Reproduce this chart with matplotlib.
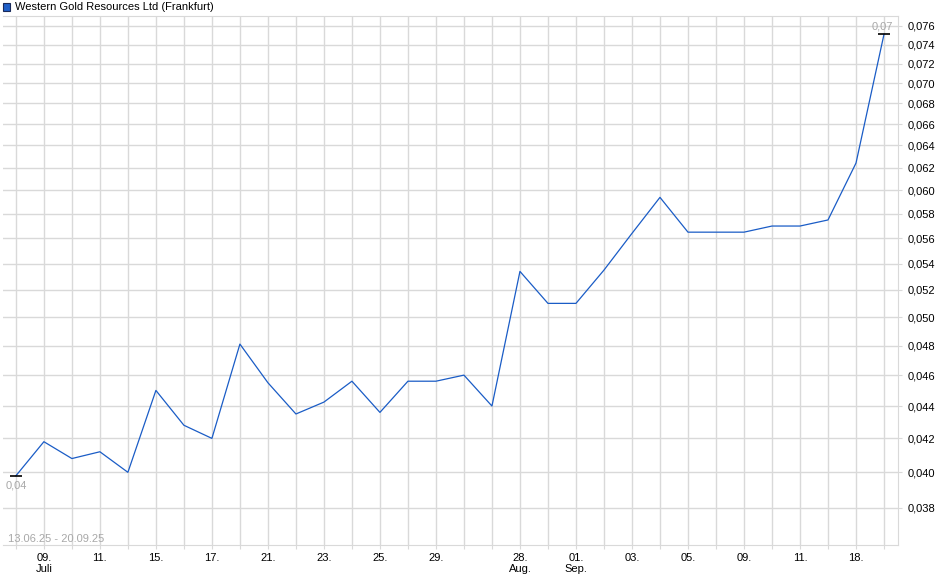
import numpy as np
import matplotlib.pyplot as plt
from matplotlib.patches import Rectangle
from matplotlib.ticker import FixedLocator, FuncFormatter, NullLocator

# Kursverlauf Western Gold Resources, Handelstage 13.06.25 - 20.09.25
plt.rcParams['font.family'] = ['Liberation Sans', 'DejaVu Sans']
plt.rcParams['font.size'] = 8

kurs = [0.0398, 0.0418, 0.0408, 0.0412, 0.0400, 0.0450, 0.0428, 0.0420,
        0.0481, 0.0455, 0.0435, 0.04425, 0.0456, 0.0436, 0.0456, 0.0456,
        0.0460, 0.0440, 0.0534, 0.0510, 0.0510, 0.0535, 0.0564, 0.0594,
        0.0565, 0.0565, 0.0565, 0.0570, 0.0570, 0.0575, 0.0624, 0.0751]

tick_pos = [1, 3, 5, 7, 9, 11, 13, 15, 18, 20, 22, 24, 26, 28, 30]
tick_txt = ['09.\nJuli', '11.', '15.', '17.', '21.', '23.', '25.', '29.',
            '28.\nAug.', '01.\nSep.', '03.', '05.', '09.', '11.', '18.']

y_ticks = [0.038, 0.040, 0.042, 0.044, 0.046, 0.048, 0.050, 0.052, 0.054,
           0.056, 0.058, 0.060, 0.062, 0.064, 0.066, 0.068, 0.070, 0.072,
           0.074, 0.076]

titel = 'Western Gold Resources Ltd (Frankfurt)'
zeitraum = '13.06.25 - 20.09.25'
label_start = '0,04'
label_ende = '0,07'

grau = '#d9d9d9'
blau = '#1a5cc6'

fig = plt.figure(figsize=(9.4, 5.79), dpi=100)
ax = fig.add_axes([3/940, 34/579, 895/940, 529/579])

x = np.arange(len(kurs))
ax.plot(x, kurs, color=blau, lw=0.9)

ax.set_yscale('log')
ax.set_ylim(0.03603, 0.07710)
ax.set_xlim(-0.46, len(kurs) - 0.5)

ax.yaxis.set_major_locator(FixedLocator(y_ticks))
ax.yaxis.set_minor_locator(NullLocator())
ax.yaxis.set_major_formatter(FuncFormatter(lambda v, p: f'{v:.3f}'.replace('.', ',')))
ax.yaxis.tick_right()

xlabels = [''] * len(kurs)
for p, t in zip(tick_pos, tick_txt):
    xlabels[p] = t
ax.set_xticks(x)
ax.set_xticklabels(xlabels, linespacing=1.1)

ax.tick_params(axis='both', length=3, color=grau, labelcolor='black')
ax.tick_params(axis='x', pad=3)
ax.tick_params(axis='y', pad=4)
ax.grid(True, color=grau, lw=1)
ax.set_axisbelow(True)

for s in ['top', 'right', 'bottom']:
    ax.spines[s].set_color(grau)
ax.spines['left'].set_visible(False)

# Start- und Endwert markieren
ax.plot([0, len(kurs) - 1], [kurs[0], kurs[-1]], ls='none', marker='_',
        ms=9, mew=1.2, color='black')
ax.annotate(label_start, xy=(0, kurs[0]), xytext=(-10, -10),
            textcoords='offset pixels', ha='left', va='center', color='#a8a8a8')
ax.annotate(label_ende, xy=(len(kurs) - 1, kurs[-1]), xytext=(9, 8),
            textcoords='offset pixels', ha='right', va='center', color='#a8a8a8')

ax.text(5/895, 6/529, zeitraum, transform=ax.transAxes, ha='left',
        va='center', color='#a8a8a8')

# Legende oben links
fig.patches.append(Rectangle((3/940, 1 - 10.5/579), 7/940, 7/579,
                             transform=fig.transFigure, facecolor='#1f5fc8',
                             edgecolor='#1a2a5a', lw=0.8))
fig.text(15/940, 1 - 6.5/579, titel, ha='left', va='center', color='black')

fig.savefig('out.png', dpi=100)
